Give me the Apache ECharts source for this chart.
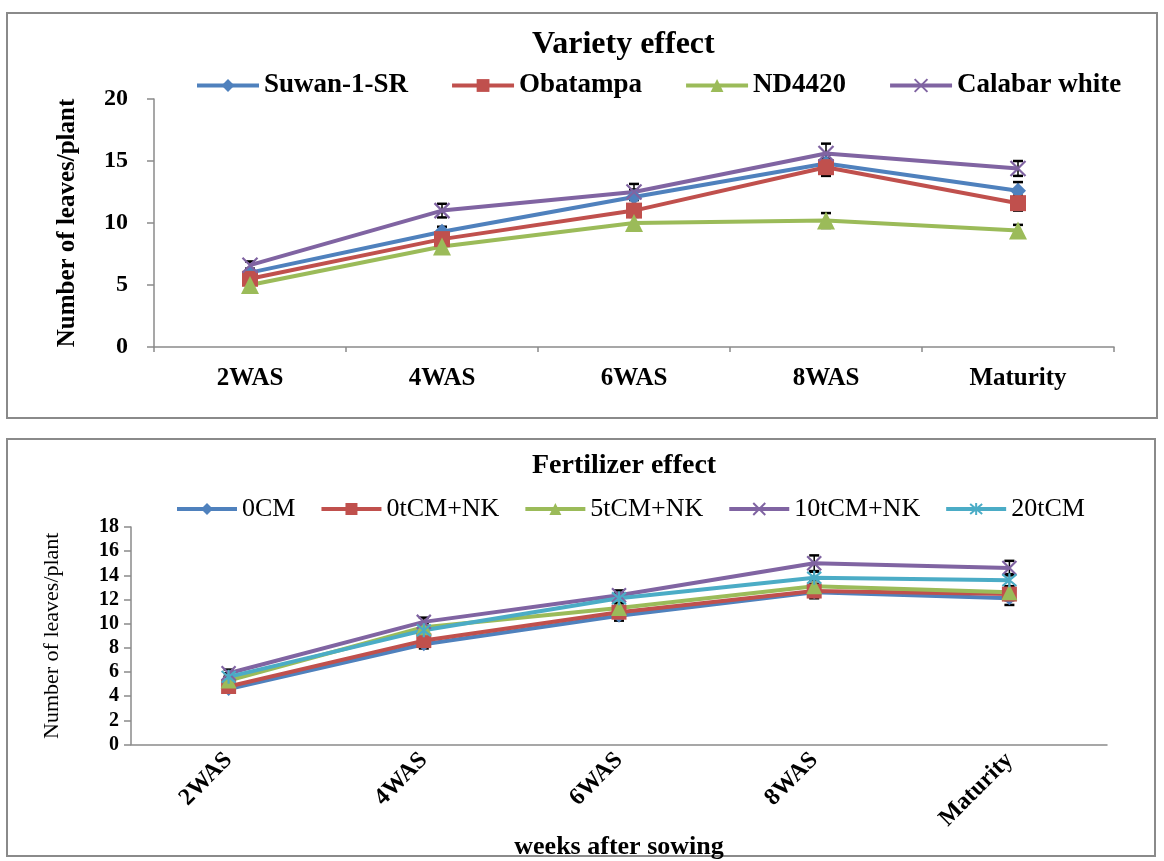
<!DOCTYPE html>
<html>
<head>
<meta charset="utf-8">
<script src="https://cdn.jsdelivr.net/npm/echarts@6/dist/echarts.min.js"></script>
<style>html,body{margin:0;padding:0;background:#fff;}#c{width:1164px;height:861px;}</style>
</head>
<body>
<div id="c"></div>
<script>
// ---- data ----
const categories = ['2WAS', '4WAS', '6WAS', '8WAS', 'Maturity'];

const varietyNames = ['Suwan-1-SR', 'Obatampa', 'ND4420', 'Calabar white'];
const suwan      = [6.0, 9.3, 12.1, 14.8, 12.6];
const obatampa   = [5.5, 8.7, 11.0, 14.5, 11.6];
const nd4420     = [5.0, 8.1, 10.0, 10.2, 9.4];
const calabar    = [6.6, 11.0, 12.5, 15.6, 14.4];
const suwanErr    = [0.3, 0.4, 0.6, 0.7, 0.7];
const obatampaErr = [0.3, 0.4, 0.5, 0.7, 0.6];
const nd4420Err   = [0.3, 0.4, 0.5, 0.6, 0.45];
const calabarErr  = [0.3, 0.55, 0.65, 0.8, 0.6];

const fertNames = ['0CM', '0tCM+NK', '5tCM+NK', '10tCM+NK', '20tCM'];
const f0CM    = [4.6, 8.3, 10.65, 12.6, 12.1];
const f0tNK   = [4.8, 8.6, 10.95, 12.7, 12.45];
const f5tNK   = [5.3, 9.7, 11.3, 13.1, 12.6];
const f10tNK  = [5.9, 10.15, 12.35, 15.0, 14.6];
const f20t    = [5.6, 9.45, 12.1, 13.8, 13.6];
const f0CMErr   = [0.3, 0.35, 0.4, 0.5, 0.55];
const f0tNKErr  = [0.3, 0.35, 0.4, 0.5, 0.5];
const f5tNKErr  = [0.3, 0.35, 0.4, 0.5, 0.5];
const f10tNKErr = [0.3, 0.35, 0.4, 0.65, 0.6];
const f20tErr   = [0.3, 0.35, 0.4, 0.5, 0.5];

const topTicks = [0, 5, 10, 15, 20];
const bottomTicks = [0, 2, 4, 6, 8, 10, 12, 14, 16, 18];

// ---- styling ----
const C = {blue:'#4F81BD', red:'#C0504D', green:'#9BBB59', purple:'#8064A2', cyan:'#4BACC6'};
const SERIF = '"Liberation Serif", "Times New Roman", serif';
const X_PATH = 'path://M0,0L10,10M10,0L0,10';
const STAR_PATH = 'path://M0,0L10,10M10,0L0,10M5,-1L5,11';

function lineSeries(name, data, color, symbol, size, gi, stroke) {
  return {
    name, type: 'line', data, xAxisIndex: gi, yAxisIndex: gi,
    symbol, symbolSize: size, z: 3,
    lineStyle: {color, width: 4},
    itemStyle: stroke ? {color: color, borderColor: color, borderWidth: 2.2} : {color},
    emphasis: {disabled: true}
  };
}
function errSeries(vals, errs, gi) {
  return {
    type: 'custom', xAxisIndex: gi, yAxisIndex: gi, z: 2, silent: true,
    data: vals.map((v, i) => [i, v, errs[i]]),
    renderItem: function (params, api) {
      const x = api.value(0), y = api.value(1), e = api.value(2);
      const hi = api.coord([x, y + e]);
      const lo = api.coord([x, y - e]);
      const w = 5;
      return {
        type: 'group',
        children: [
          {type: 'line', shape: {x1: hi[0], y1: hi[1], x2: lo[0], y2: lo[1]}, style: {stroke: '#000', lineWidth: 1.5}},
          {type: 'line', shape: {x1: hi[0]-w, y1: hi[1], x2: hi[0]+w, y2: hi[1]}, style: {stroke: '#000', lineWidth: 2.5}},
          {type: 'line', shape: {x1: lo[0]-w, y1: lo[1], x2: lo[0]+w, y2: lo[1]}, style: {stroke: '#000', lineWidth: 2.5}}
        ]
      };
    }
  };
}

const chart = echarts.init(document.getElementById('c'), null, {renderer: 'canvas'});

const option = {
  backgroundColor: '#fff',
  animation: false,
  textStyle: {fontFamily: SERIF},
  title: [
    {text: 'Variety effect', left: 527, top: 24, textStyle: {fontFamily: SERIF, fontWeight: 'bold', fontSize: 32, color: '#000'}},
    {text: 'Fertilizer effect', left: 527, top: 447, textStyle: {fontFamily: SERIF, fontWeight: 'bold', fontSize: 28, color: '#000'}}
  ],
  legend: [
    {data: varietyNames, top: 67, left: 190, itemWidth: 62, itemHeight: 16, itemGap: 42,
     lineStyle: {width: 4},
     textStyle: {fontFamily: SERIF, fontWeight: 'bold', fontSize: 27, color: '#000'}},
    {data: fertNames, top: 491, left: 170, itemWidth: 60, itemHeight: 15, itemGap: 24,
     lineStyle: {width: 4},
     textStyle: {fontFamily: SERIF, fontSize: 26, color: '#000'}}
  ],
  graphic: [
    {type: 'rect', shape: {x: 7, y: 13, width: 1150, height: 405}, style: {fill: 'none', stroke: '#8a8a8a', lineWidth: 2}, z: -1},
    {type: 'rect', shape: {x: 7, y: 439, width: 1148, height: 417}, style: {fill: 'none', stroke: '#8a8a8a', lineWidth: 2}, z: -1}
  ],
  grid: [
    {left: 154, top: 99, width: 960, height: 248},
    {left: 131, top: 527, width: 976, height: 220}
  ],
  xAxis: [
    {type: 'category', gridIndex: 0, data: categories, boundaryGap: true,
     axisLine: {lineStyle: {color: '#8a8a8a', width: 1.5}},
     axisTick: {show: true, length: 5, lineStyle: {color: '#8a8a8a', width: 1.5}},
     axisLabel: {fontFamily: SERIF, fontWeight: 'bold', fontSize: 25, color: '#000', margin: 19}},
    {type: 'category', gridIndex: 1, data: categories, boundaryGap: true,
     axisLine: {lineStyle: {color: '#8a8a8a', width: 1.5}},
     axisTick: {show: false},
     axisLabel: {fontFamily: SERIF, fontWeight: 'bold', fontSize: 24, color: '#000', rotate: 45, margin: 12},
     name: 'weeks after sowing', nameLocation: 'middle', nameGap: 83,
     nameTextStyle: {fontFamily: SERIF, fontWeight: 'bold', fontSize: 26, color: '#000'}}
  ],
  yAxis: [
    {type: 'value', gridIndex: 0, min: topTicks[0], max: topTicks[topTicks.length-1], interval: 5,
     splitLine: {show: false},
     axisLine: {show: true, lineStyle: {color: '#8a8a8a', width: 1.5}},
     axisTick: {show: true, length: 7, lineStyle: {color: '#8a8a8a', width: 1.5}},
     axisLabel: {fontFamily: SERIF, fontWeight: 'bold', fontSize: 24, color: '#000', margin: 26},
     name: 'Number of leaves/plant', nameLocation: 'middle', nameGap: 74,
     nameTextStyle: {fontFamily: SERIF, fontWeight: 'bold', fontSize: 25, color: '#000'}},
    {type: 'value', gridIndex: 1, min: bottomTicks[0], max: bottomTicks[bottomTicks.length-1], interval: 2,
     splitLine: {show: false},
     axisLine: {show: true, lineStyle: {color: '#8a8a8a', width: 1.5}},
     axisTick: {show: true, length: 7, lineStyle: {color: '#8a8a8a', width: 1.5}},
     axisLabel: {fontFamily: SERIF, fontWeight: 'bold', fontSize: 20, color: '#000', margin: 12},
     name: 'Number of leaves/plant', nameLocation: 'middle', nameGap: 68,
     nameTextStyle: {fontFamily: SERIF, fontSize: 22, color: '#000'}}
  ],
  series: [
    errSeries(suwan, suwanErr, 0),
    errSeries(obatampa, obatampaErr, 0),
    errSeries(nd4420, nd4420Err, 0),
    errSeries(calabar, calabarErr, 0),
    lineSeries(varietyNames[0], suwan, C.blue, 'diamond', 16, 0),
    lineSeries(varietyNames[1], obatampa, C.red, 'rect', 16, 0),
    lineSeries(varietyNames[2], nd4420, C.green, 'triangle', 18, 0),
    lineSeries(varietyNames[3], calabar, C.purple, X_PATH, 15, 0, true),

    errSeries(f0CM, f0CMErr, 1),
    errSeries(f0tNK, f0tNKErr, 1),
    errSeries(f5tNK, f5tNKErr, 1),
    errSeries(f10tNK, f10tNKErr, 1),
    errSeries(f20t, f20tErr, 1),
    lineSeries(fertNames[0], f0CM, C.blue, 'diamond', 14, 1),
    lineSeries(fertNames[1], f0tNK, C.red, 'rect', 15, 1),
    lineSeries(fertNames[2], f5tNK, C.green, 'triangle', 16, 1),
    lineSeries(fertNames[3], f10tNK, C.purple, X_PATH, 14, 1, true),
    lineSeries(fertNames[4], f20t, C.cyan, STAR_PATH, 14, 1, true)
  ]
};
chart.setOption(option);
</script>
</body>
</html>
